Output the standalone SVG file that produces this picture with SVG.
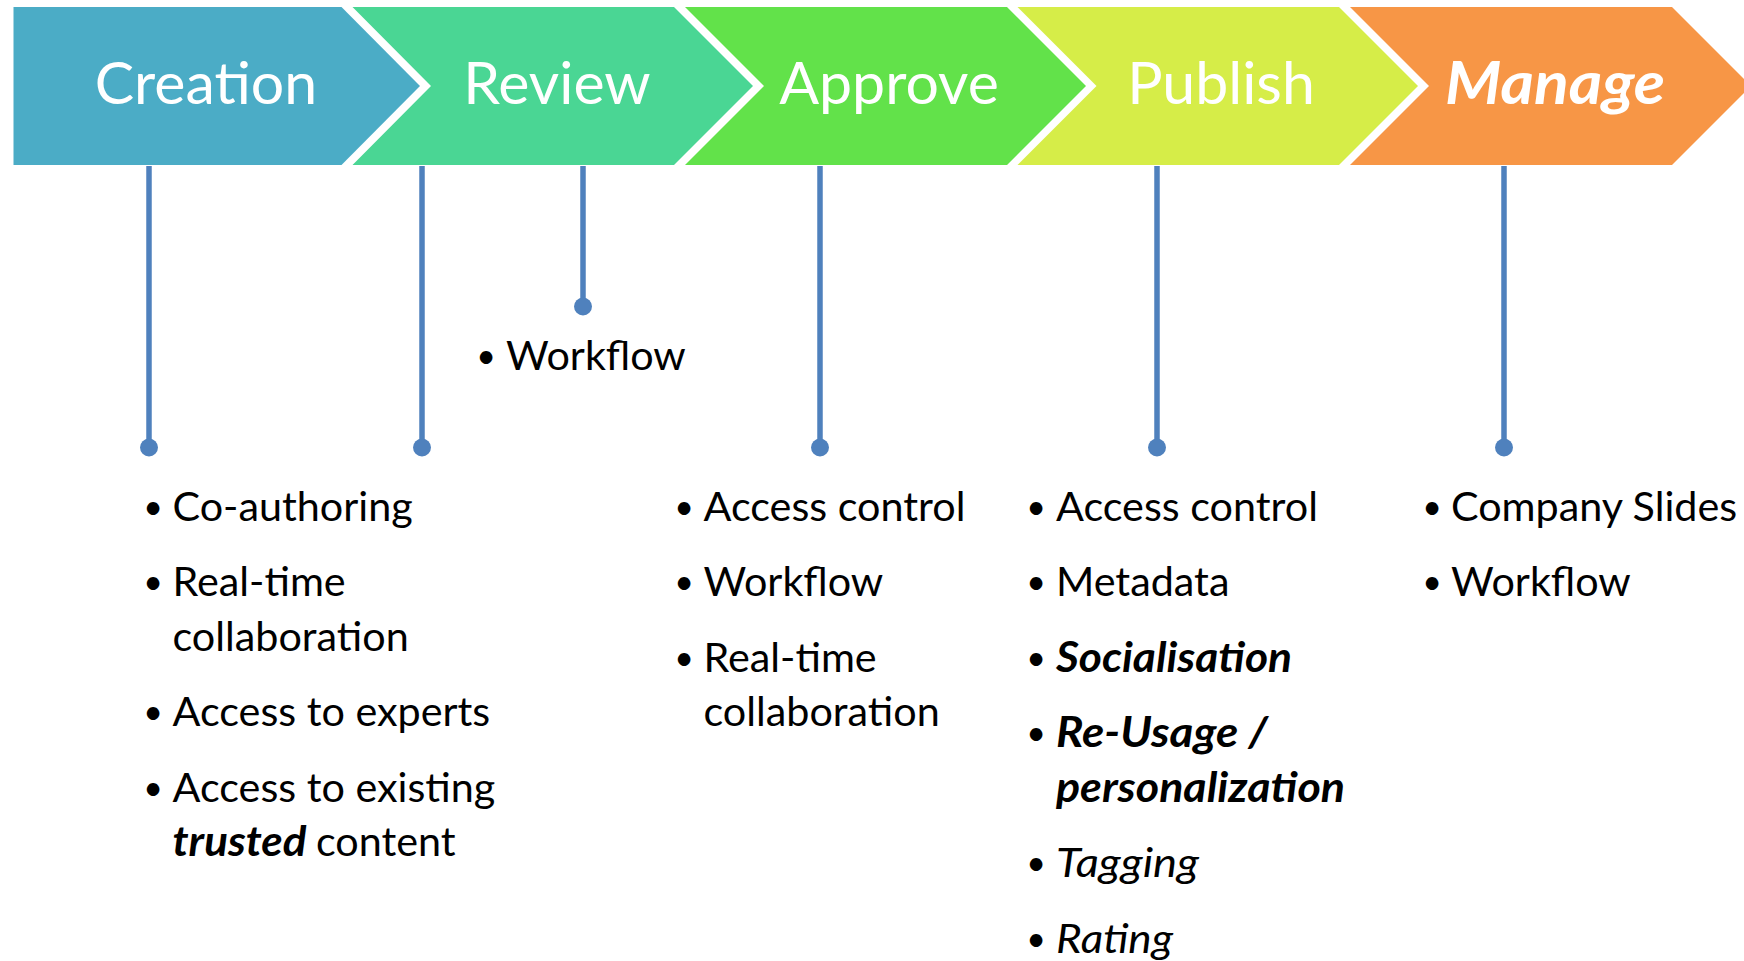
<svg xmlns="http://www.w3.org/2000/svg" width="1744" height="961" viewBox="0 0 1744 961">
<style>
.title{font-family:Lato,"Liberation Sans",sans-serif;font-size:59px;fill:#ffffff;text-anchor:middle}
.item{font-family:Lato,"Liberation Sans",sans-serif;font-size:41.3px;fill:#000000}
.bul{font-family:Lato,"Liberation Sans",sans-serif;font-size:34px;fill:#000000;text-anchor:middle}
.bi{font-weight:bold;font-style:italic}
.it{font-style:italic}
.conn line{stroke:#4F81BD;stroke-width:5.5}
.conn circle{fill:#4F81BD}
</style>
<rect width="1744" height="961" fill="#ffffff"/>
<g id="node-creation">
<polygon points="13.5,7 341.5,7 420,86 341.5,165 13.5,165" fill="#4BACC6"/>
<text class="title" x="206" y="104">Creation</text>
</g>
<g id="node-review">
<polygon points="352.5,7 674,7 753,86 674,165 352.5,165 431,86" fill="#4AD694"/>
<text class="title" x="557" y="104">Review</text>
</g>
<g id="node-approve">
<polygon points="685,7 1007,7 1086,86 1007,165 685,165 764,86" fill="#62E24A"/>
<text class="title" x="889" y="104">Approve</text>
</g>
<g id="node-publish">
<polygon points="1017.5,7 1339,7 1418,86 1339,165 1017.5,165 1096.5,86" fill="#D6ED48"/>
<text class="title" x="1221" y="104">Publish</text>
</g>
<g id="node-manage">
<polygon points="1350,7 1672,7 1751,86 1672,165 1350,165 1429,86" fill="#F79646"/>
<text class="title" x="1555" y="104" font-weight="bold" font-style="italic" textLength="220" lengthAdjust="spacingAndGlyphs">Manage</text>
</g>
<g id="connectors" class="conn">
<line x1="149" y1="166" x2="149" y2="447"/><circle cx="149" cy="447.5" r="9"/>
<line x1="422" y1="166" x2="422" y2="447"/><circle cx="422" cy="447.5" r="9"/>
<line x1="583" y1="166" x2="583" y2="306"/><circle cx="583" cy="306.5" r="9"/>
<line x1="820" y1="166" x2="820" y2="447"/><circle cx="820" cy="447.5" r="9"/>
<line x1="1157" y1="166" x2="1157" y2="447"/><circle cx="1157" cy="447.5" r="9"/>
<line x1="1504" y1="166" x2="1504" y2="447"/><circle cx="1504" cy="447.5" r="9"/>
</g>
<g id="list-review">
<text class="bul" x="486" y="368">•</text>
<text class="item" x="506" y="370">Workflow</text>
</g>
<g id="list-creation">
<text class="bul" x="153" y="518.5">•</text><text class="item" x="172.5" y="520.5">Co-authoring</text>
<text class="bul" x="153" y="594">•</text><text class="item" x="172.5" y="596">Real-time</text>
<text class="item" x="172.5" y="650.5">collaboration</text>
<text class="bul" x="153" y="724">•</text><text class="item" x="172.5" y="726">Access to experts</text>
<text class="bul" x="153" y="799.5">•</text><text class="item" x="172.5" y="801.5">Access to existing</text>
<text class="item bi" x="172.5" y="856" textLength="134" lengthAdjust="spacingAndGlyphs">trusted</text>
<text class="item" x="316" y="856">content</text>
</g>
<g id="list-approve">
<text class="bul" x="684" y="518.5">•</text><text class="item" x="703.5" y="520.5">Access control</text>
<text class="bul" x="684" y="594">•</text><text class="item" x="703.5" y="596">Workflow</text>
<text class="bul" x="684" y="669.5">•</text><text class="item" x="703.5" y="671.5">Real-time</text>
<text class="item" x="703.5" y="726">collaboration</text>
</g>
<g id="list-publish">
<text class="bul" x="1036" y="518.5">•</text><text class="item" x="1056" y="520.5">Access control</text>
<text class="bul" x="1036" y="594">•</text><text class="item" x="1056" y="596">Metadata</text>
<text class="bul" x="1036" y="669.5">•</text><text class="item bi" x="1056" y="671.5" textLength="236" lengthAdjust="spacingAndGlyphs">Socialisation</text>
<text class="bul" x="1036" y="745">•</text><text class="item bi" x="1056" y="747" textLength="212" lengthAdjust="spacingAndGlyphs">Re-Usage /</text>
<text class="item bi" x="1056" y="801.5" textLength="289" lengthAdjust="spacingAndGlyphs">personalization</text>
<text class="bul" x="1036" y="875">•</text><text class="item it" x="1056" y="877" textLength="143" lengthAdjust="spacingAndGlyphs">Tagging</text>
<text class="bul" x="1036" y="950.5">•</text><text class="item it" x="1056" y="952.5" textLength="117" lengthAdjust="spacingAndGlyphs">Rating</text>
</g>
<g id="list-manage">
<text class="bul" x="1432" y="518.5">•</text><text class="item" x="1451" y="520.5">Company Slides</text>
<text class="bul" x="1432" y="594">•</text><text class="item" x="1451" y="596">Workflow</text>
</g>
</svg>
